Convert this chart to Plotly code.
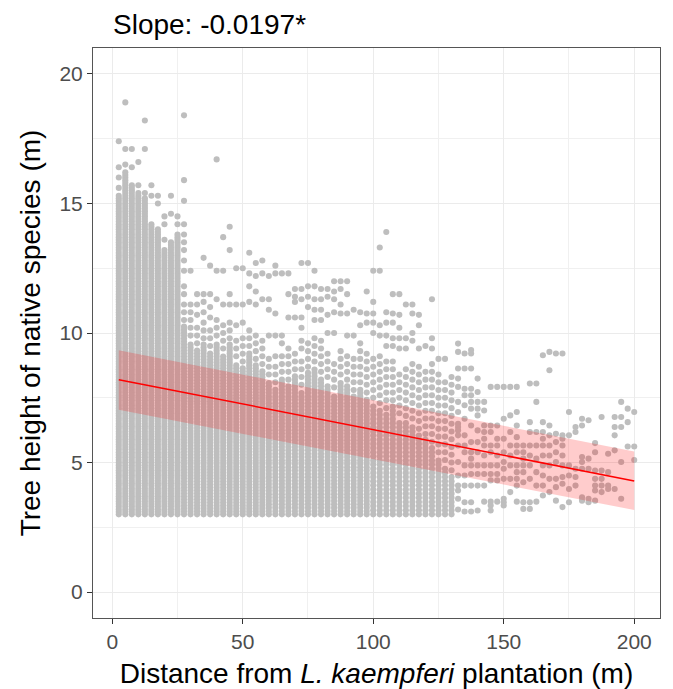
import plotly.graph_objects as go

# ---------------- data ----------------
# distance columns (m) at which trees were recorded
col_dist = [2.5, 5, 7.5, 10, 12.5, 15, 17.5, 20, 22.5, 25,
            27.5, 30, 32.5, 35, 37.5, 40, 42.5, 45, 47.5, 50,
            52.5, 55, 57.5, 60, 62.5, 65, 67.5, 70, 72.5, 75,
            77.5, 80, 82.5, 85, 87.5, 90, 92.5, 95, 97.5, 100,
            102.5, 105, 107.5, 110, 112.5, 115, 117.5, 120, 122.5, 125,
            127.5, 130, 132.5, 135, 137.5, 140, 142.5, 145, 147.5, 150,
            152.5, 155, 157.5, 160, 162.5, 165, 167.5, 170, 172.5, 175,
            177.5, 180, 182.5, 185, 187.5, 190, 192.5, 195, 197.5, 200]

# columns 1-52: a solid run of recorded heights from 3.0 m to solid_top,
# then a looser run up to loose_top (recording resolution in the *_step lists)
dense_low = 3.0
solid_top = [15.3, 16.2, 15.6, 15.4, 15.2, 14.2, 14.0, 13.2, 13.5, 13.8,
             10.2, 9.6, 9.3, 9.5, 9.2, 9.6, 9.1, 9.5, 8.8, 8.6,
             9.2, 8.7, 8.5, 8.1, 7.8, 8.2, 7.9, 8.3, 7.7, 8.4,
             8.6, 8.2, 8.0, 7.6, 8.1, 7.9, 7.5, 7.8, 7.4, 7.2,
             7.0, 6.8, 7.1, 6.6, 6.5, 6.4, 6.0, 5.8, 5.5, 5.1,
             4.8, 4.4]
loose_top = [15.3, 16.2, 15.6, 15.4, 15.2, 14.2, 14.0, 13.2, 13.5, 13.8,
             11.2, 10.6, 10.3, 10.4, 10.2, 10.6, 10.3, 10.6, 9.9, 9.8,
             10.3, 10.0, 9.7, 9.2, 8.8, 9.1, 8.8, 9.3, 8.9, 9.6,
             9.8, 9.7, 9.4, 8.9, 9.4, 9.3, 9.1, 9.7, 9.4, 9.1,
             9.2, 8.9, 9.1, 8.6, 8.6, 9.0, 8.8, 8.5, 8.8, 8.4,
             8.2, 8.3]
solid_step = [0.1] * 10 + [0.115] * 13 + [0.13] * 16 + [0.16] * 13
loose_step = 0.3

# individual heights (m) per column, outside the runs
extra_heights = [
    [17.4, 16.4, 16.0, 15.6],
    [18.9, 17.1, 16.5],
    [17.1, 16.4, 15.7],
    [16.6, 15.7],
    [18.2, 17.1, 15.4],
    [15.7, 15.3],
    [15.3, 15.0],
    [14.5, 14.2, 13.6],
    [15.3, 14.6],
    [14.5, 14.2],
    [18.4, 15.9, 15.1, 14.2, 13.8, 13.5, 13.2, 12.8, 12.4, 11.8, 11.5],
    [12.4, 11.1, 10.8],
    [11.5, 11.1, 10.7],
    [12.9, 11.5, 11.2, 10.8],
    [12.6, 11.5, 11.0, 10.6],
    [16.7, 12.4, 11.3],
    [13.7, 12.4, 11.1],
    [14.1, 13.2, 11.5, 11.1],
    [12.5, 11.1, 10.3],
    [12.5, 11.1, 10.4],
    [13.1, 12.3, 11.8, 11.2],
    [12.7, 12.2, 11.6, 11.1],
    [12.8, 12.3, 11.3],
    [12.2, 11.3, 10.9, 9.9],
    [12.6, 12.3, 10.75, 9.9, 9.1],
    [12.3, 9.9, 9.6],
    [12.3, 11.5, 10.6, 9.4, 9.1],
    [11.7, 11.4, 11.2, 10.6],
    [12.7, 11.7, 11.3, 10.6, 10.2, 9.7, 9.4],
    [12.7, 11.8, 11.4, 11.0],
    [12.4, 11.8, 11.3, 10.9, 10.5],
    [11.7, 11.3, 10.9, 10.5],
    [11.7, 11.4, 10.7, 10.0],
    [12.0, 11.6, 11.3, 10.8, 10.0],
    [12.0, 11.7, 11.1, 10.75],
    [12.0, 11.5, 10.75, 9.9],
    [10.9, 9.9],
    [10.8, 10.3],
    [11.6, 10.75, 10.4],
    [12.4, 11.2, 10.75, 10.4, 10.0],
    [13.3, 12.4, 10.3, 9.9],
    [13.9, 10.8, 10.4, 9.9, 9.5],
    [11.5, 10.75, 10.4, 9.8, 9.5],
    [11.5, 10.7, 10.2, 9.8, 9.4],
    [11.1, 9.8, 9.4],
    [11.1, 10.75, 10.0, 9.7],
    [10.7, 10.3, 9.4],
    [9.5],
    [11.3, 9.8, 9.4],
    [9.0],
    [9.0],
    [],
    [9.59, 9.27, 8.63, 8.24, 7.92, 7.34, 6.95, 6.50, 6.37, 6.24, 6.05, 5.66, 5.02, 4.50, 4.11, 3.92, 3.60, 3.19],
    [9.21, 8.63, 7.85, 7.60, 7.21, 6.69, 6.05, 5.66, 5.40, 4.89, 4.50, 4.11, 3.47, 3.11],
    [9.34, 9.21, 8.63, 7.85, 7.60, 7.34, 7.08, 6.43, 5.79, 5.40, 5.15, 4.89, 4.56, 4.11, 3.47, 3.11],
    [8.24, 7.72, 7.34, 7.08, 6.82, 6.24, 5.79, 5.40, 4.89, 4.56, 4.11, 3.15],
    [7.34, 7.01, 6.43, 6.18, 5.92, 5.66, 5.27, 4.89, 4.56, 4.11, 3.49],
    [7.92, 6.43, 6.18, 5.66, 5.40, 4.89, 4.56, 4.31, 3.49, 3.34, 3.15],
    [7.92, 6.43, 5.92, 5.66, 5.27, 4.89, 4.56, 4.31, 3.49],
    [7.92, 6.69, 5.92, 5.40, 5.02, 4.76, 4.37, 3.60, 3.47, 3.34],
    [7.92, 6.82, 6.18, 5.66, 5.27, 4.89, 4.37, 3.86],
    [7.92, 6.95, 6.43, 5.98, 5.66, 5.40, 4.89, 4.63, 4.37, 4.11, 3.49],
    [5.66, 5.40, 5.15, 4.89, 4.63, 4.24, 3.47, 3.21],
    [8.05, 6.56, 6.18, 5.66, 5.27, 4.89, 4.37, 3.47, 3.21],
    [8.05, 7.34, 6.18, 5.66, 5.15, 4.63, 4.11, 3.49],
    [9.14, 6.56, 6.18, 5.92, 5.66, 5.27, 4.89, 4.50, 4.11, 3.73],
    [9.27, 8.56, 6.43, 6.05, 5.66, 5.27, 4.89, 4.37, 3.86],
    [9.21, 6.11, 5.79, 5.40, 5.02, 4.37, 4.05, 3.53],
    [9.21, 6.05, 5.92, 5.66, 5.27, 4.89, 4.44, 4.18, 3.28],
    [6.95, 6.05, 4.89, 4.50, 3.98, 3.47],
    [6.37, 6.18, 4.76, 4.44, 4.11],
    [6.69, 6.43, 5.21, 5.02, 4.76, 3.66, 3.53],
    [6.63, 5.15, 4.76, 3.60, 3.47],
    [5.75, 5.40, 4.69, 4.37, 4.11, 3.92, 3.53],
    [6.76, 4.69, 4.37, 4.11, 3.86],
    [5.34, 4.63, 4.11, 3.98],
    [6.76, 6.37, 6.05, 5.47, 3.98],
    [7.34, 6.76, 6.37, 5.02, 3.60],
    [7.08, 6.56, 5.62],
    [6.95, 5.62, 5.10],
]

# fitted regression line and its ribbon
fit_x = [2.5, 200]
fit_y = [8.20, 4.29]
fit_lower = [7.04, 3.17]
fit_upper = [9.33, 5.43]

title_text = "Slope: -0.0197*"
x_ticks = [0, 50, 100, 150, 200]
y_ticks = [0, 5, 10, 15, 20]

# ---------------- build point list ----------------
px, py = [], []
for i, d in enumerate(col_dist):
    if i < len(solid_top):
        step = solid_step[i]
        n = int(round((solid_top[i] - dense_low) / step))
        for j in range(n + 1):
            px.append(d)
            py.append(round(dense_low + j * step, 3))
        h = solid_top[i] + loose_step
        while h <= loose_top[i] + 1e-9:
            px.append(d)
            py.append(round(h, 3))
            h += loose_step
    for h in extra_heights[i]:
        px.append(d)
        py.append(h)

fig = go.Figure()
fig.add_trace(go.Scatter(
    x=px, y=py, mode="markers",
    marker=dict(color="#BEBEBE", size=6.1, line=dict(width=0)),
    hoverinfo="skip", showlegend=False))

fig.add_trace(go.Scatter(
    x=fit_x + fit_x[::-1], y=fit_upper + fit_lower[::-1],
    fill="toself", fillcolor="rgba(255,0,0,0.2)", mode="none",
    line=dict(width=0), hoverinfo="skip", showlegend=False))

fig.add_trace(go.Scatter(
    x=fit_x, y=fit_y, mode="lines",
    line=dict(color="#FF0000", width=1.5),
    hoverinfo="skip", showlegend=False))

FONT = "Liberation Sans, Arial, sans-serif"
axis_common = dict(
    automargin=False,
    showgrid=True, gridcolor="#EBEBEB", gridwidth=1.1,
    zeroline=False, showline=True, mirror=True,
    linecolor="#555555", linewidth=1,
    ticks="outside", ticklen=5, tickcolor="#333333", tickwidth=1,
    tickfont=dict(family=FONT, size=21, color="#4D4D4D"),
)

# the page body adds an 8 px offset, so the figure is sized to fit inside it
W, H = 665, 681
fig.update_layout(
    width=W, height=H,
    margin=dict(l=85, r=13, t=40, b=71),
    paper_bgcolor="white", plot_bgcolor="white",
    font=dict(family=FONT, color="black"),
    title=dict(text=title_text, x=105 / W, xanchor="left", xref="container",
               y=1 - 16 / H, yanchor="middle", yref="container",
               pad=dict(l=0, r=0, t=0, b=0),
               font=dict(family=FONT, size=28, color="black")),
    xaxis=dict(range=[-7.375, 209.875], tickvals=x_ticks,
               minor=dict(tickvals=[25, 75, 125, 175], showgrid=True,
                          gridcolor="#F0F0F0", gridwidth=0.8, ticks=""),
               title=dict(text="Distance from <i>L. kaempferi</i> plantation (m)",
                          font=dict(family=FONT, size=28, color="black"),
                          standoff=11),
               **axis_common),
    yaxis=dict(range=[-1, 21], tickvals=y_ticks,
               minor=dict(tickvals=[2.5, 7.5, 12.5, 17.5], showgrid=True,
                          gridcolor="#F0F0F0", gridwidth=0.8, ticks=""),
               title=dict(text="Tree height of native species (m)",
                          font=dict(family=FONT, size=28, color="black"),
                          standoff=10),
               **axis_common),
)

fig.write_html("out.html")
